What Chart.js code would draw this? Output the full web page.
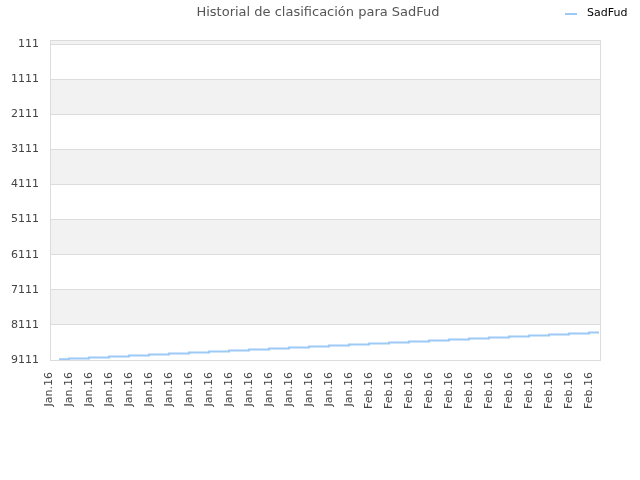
<!DOCTYPE html>
<html>
<head>
<meta charset="utf-8">
<script src="https://cdn.jsdelivr.net/npm/chart.js@4/dist/chart.umd.min.js"></script>
<style>
html,body{margin:0;padding:0;background:#fff;}
#wrap{width:640px;height:480px;position:relative;}
</style>
</head>
<body>
<div id="wrap"><canvas id="c" width="640" height="480"></canvas></div>
<script>
const titleText = "Historial de clasificación para SadFud";
const seriesName = "SadFud";
const categories = ["Jan.16","Jan.16","Jan.16","Jan.16","Jan.16","Jan.16","Jan.16","Jan.16","Jan.16","Jan.16","Jan.16","Jan.16","Jan.16","Jan.16","Jan.16","Jan.16","Feb.16","Feb.16","Feb.16","Feb.16","Feb.16","Feb.16","Feb.16","Feb.16","Feb.16","Feb.16","Feb.16","Feb.16"];
const ranks = [9091,9071,9043,9014,8986,8957,8929,8900,8871,8843,8814,8786,8757,8729,8700,8671,8643,8614,8586,8557,8529,8500,8471,8443,8414,8386,8357,8329];
const yTicks = [111,1111,2111,3111,4111,5111,6111,7111,8111,9111];
const yMin = -6, yMax = 9111;
const lineColor = "#9cc9f5";
const FONT = "'DejaVu Sans', sans-serif";

const bandsPlugin = {
  id: 'bands',
  beforeDraw(chart) {
    const {ctx, chartArea: a} = chart;
    const ys = chart.scales.y;
    const edges = [ys.min, ...yTicks, ys.max];
    ctx.save();
    ctx.fillStyle = '#fff';
    ctx.fillRect(a.left, a.top, a.right - a.left, a.bottom - a.top);
    ctx.fillStyle = '#f2f2f2';
    for (let i = 0; i < edges.length - 1; i += 2) {
      const y1 = ys.getPixelForValue(edges[i]);
      const y2 = ys.getPixelForValue(edges[i + 1]);
      const top = Math.max(a.top, Math.min(y1, y2));
      const bot = Math.min(a.bottom, Math.max(y1, y2));
      if (bot > top) ctx.fillRect(a.left, top, a.right - a.left, bot - top);
    }
    ctx.restore();
  },
  afterDraw(chart) {
    const {ctx, chartArea: a} = chart;
    ctx.save();
    ctx.strokeStyle = '#dcdcdc';
    ctx.lineWidth = 1;
    ctx.strokeRect(Math.round(a.left) + 0.5, Math.round(a.top) + 0.5, Math.round(a.right - a.left), Math.round(a.bottom - a.top));
    // title
    ctx.fillStyle = '#555';
    ctx.font = "13px " + FONT;
    ctx.textAlign = 'center';
    ctx.textBaseline = 'middle';
    ctx.fillText(titleText, 318, 13);
    // legend
    const ds = chart.data.datasets[0];
    ctx.strokeStyle = ds.borderColor;
    ctx.lineWidth = 2;
    ctx.beginPath();
    ctx.moveTo(565, 14);
    ctx.lineTo(577, 14);
    ctx.stroke();
    ctx.fillStyle = '#000';
    ctx.font = "11px " + FONT;
    ctx.textAlign = 'left';
    ctx.fillText(ds.label, 587, 13);
    ctx.restore();
  }
};

new Chart(document.getElementById('c'), {
  type: 'line',
  data: {
    datasets: [{
      label: seriesName,
      data: ranks.map((v, i) => ({x: i, y: v})),
      borderColor: lineColor,
      backgroundColor: lineColor,
      borderWidth: 2,
      pointRadius: 0,
      stepped: 'middle',
      fill: false
    }]
  },
  options: {
    responsive: false,
    animation: false,
    devicePixelRatio: 1,
    layout: {padding: {top: 40, left: 0, right: 40, bottom: 0}},
    plugins: {legend: {display: false}, title: {display: false}, tooltip: {enabled: false}},
    scales: {
      x: {
        type: 'linear',
        min: -0.45,
        max: 27.05,
        afterBuildTicks(scale) { scale.ticks = categories.map((c, i) => ({value: i})); },
        afterFit(scale) { scale.height = 120; },
        grid: {display: false, drawTicks: false},
        border: {display: false},
        ticks: {
          autoSkip: false,
          maxRotation: 90,
          minRotation: 90,
          padding: 12,
          labelOffset: -10,
          color: '#444',
          font: {family: FONT, size: 11},
          callback: (v, i) => categories[i]
        }
      },
      y: {
        reverse: true,
        min: yMin,
        max: yMax,
        afterBuildTicks(scale) { scale.ticks = yTicks.map(v => ({value: v})); },
        afterFit(scale) { scale.width = 50; },
        grid: {color: '#dcdcdc', drawTicks: false},
        border: {display: false},
        ticks: {
          padding: 11,
          color: '#444',
          font: {family: FONT, size: 11},
          callback: v => String(v)
        }
      }
    }
  },
  plugins: [bandsPlugin]
});
</script>
</body>
</html>
